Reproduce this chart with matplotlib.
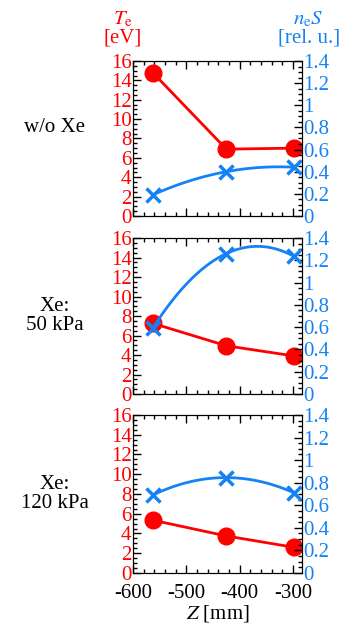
import numpy as np
import matplotlib.pyplot as plt
from matplotlib.ticker import MultipleLocator

plt.rcParams['font.family'] = ['Liberation Serif', 'DejaVu Serif']
plt.rcParams['mathtext.fontset'] = 'stix'

z = [-563, -425, -298]
panel_labels = ['w/o Xe', 'Xe:\n50 kPa', 'Xe:\n120 kPa']
te_vals = [[14.8, 6.9, 7.0],
           [7.25, 4.95, 3.9],
           [5.35, 3.75, 2.6]]
nes_vals = [[0.19, 0.40, 0.44],
            [0.59, 1.26, 1.235],
            [0.69, 0.845, 0.71]]
te_ticks = [0, 2, 4, 6, 8, 10, 12, 14, 16]
nes_ticks = [0, 0.2, 0.4, 0.6, 0.8, 1.0, 1.2, 1.4]
nes_ticklabels = ['0', '0.2', '0.4', '0.6', '0.8', '1', '1.2', '1.4']
z_ticks = [-600, -500, -400, -300]

red = '#ff0000'
blue = '#1482f5'
fs = 15

fig = plt.figure(figsize=(3.41, 6.26), dpi=100)
bottoms = [0.655, 0.3706, 0.0847]
heights = [0.2476, 0.2492, 0.2524]

for i in range(3):
    ax = fig.add_axes([0.39, bottoms[i], 0.4956, heights[i]])
    ax2 = ax.twinx()
    ax.plot(z, te_vals[i], color=red, lw=2, marker='o', ms=12, zorder=3)
    # smooth curve through the n_e S points
    c = np.polyfit(z, nes_vals[i], 2)
    zz = np.linspace(z[0], z[-1], 100)
    ax2.plot(zz, np.polyval(c, zz), color=blue, lw=2)
    ax2.plot(z, nes_vals[i], ls='none', marker='x', ms=10, mew=2.5, color=blue)

    ax.set_xlim(-600, -283)
    ax.set_ylim(0, 16)
    ax2.set_ylim(0, 1.4)
    ax.set_yticks(te_ticks)
    ax.set_yticklabels([str(t) for t in te_ticks])
    ax2.set_yticks(nes_ticks)
    ax2.set_yticklabels(nes_ticklabels)
    ax.set_xticks(z_ticks)
    ax.xaxis.set_minor_locator(MultipleLocator(20))
    ax.yaxis.set_minor_locator(MultipleLocator(0.5))
    ax2.yaxis.set_minor_locator(MultipleLocator(0.05))
    ax.tick_params(axis='x', which='both', direction='in', top=True, labelsize=fs, pad=8)
    ax.tick_params(axis='y', which='both', direction='in', colors='k', labelcolor=red, labelsize=fs, pad=1)
    ax2.tick_params(axis='y', which='both', direction='in', colors='k', labelcolor=blue, labelsize=fs, pad=1)
    for a in (ax, ax2):
        a.tick_params(which='major', length=6, width=1)
        a.tick_params(which='minor', length=3, width=1)
    if i < 2:
        ax.tick_params(axis='x', labelbottom=False)
    else:
        ax.set_xticklabels([str(t) for t in z_ticks])
        ax.set_xlabel('$Z$ [mm]', fontsize=fs, labelpad=0)
    ycen = bottoms[i] + heights[i] * (0.57 if i == 0 else 0.5)
    fig.text(0.16, ycen, panel_labels[i], ha='center', va='center',
             fontsize=fs, linespacing=0.95)

fig.text(0.36, 0.955, '$T_\\mathrm{e}$\n[eV]', color=red, ha='center', va='center',
         fontsize=fs, linespacing=0.95)
fig.text(0.905, 0.955, '$n_\\mathrm{e}S$\n[rel. u.]', color=blue, ha='center', va='center',
         fontsize=fs, linespacing=0.95)

plt.savefig('out.png', dpi=100)
